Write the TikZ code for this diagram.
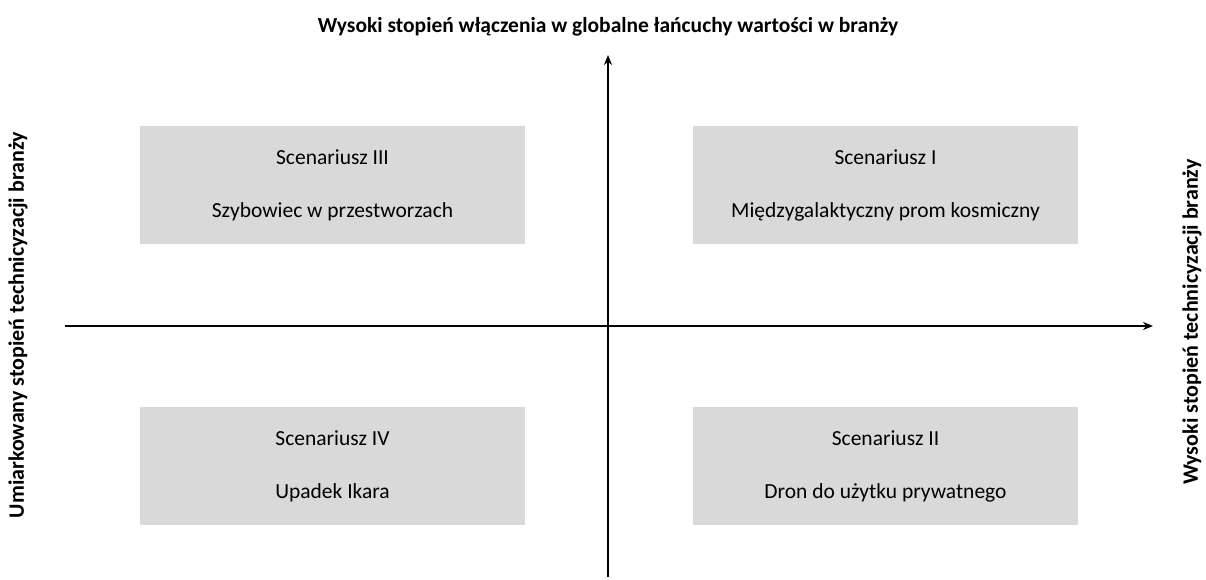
\documentclass[tikz,border=0pt]{standalone}
\usepackage{fontspec}
\setmainfont{Carlito}
\usetikzlibrary{positioning,arrows.meta}
\definecolor{scenariogray}{HTML}{D9D9D9}

\begin{document}
\begin{tikzpicture}[
    x=1pt, y=-1pt,
    % Estilos
    box/.style={fill=scenariogray, minimum width=385pt, minimum height=118pt, inner sep=0pt},
    txt/.style={font=\fontsize{21.5}{25}\selectfont},
    arr/.style={-{Stealth[length=10pt,width=8pt]}, line width=1.2pt},
    axislbl/.style={font=\fontsize{22}{26}\selectfont\bfseries}
]
\useasboundingbox (0,0) rectangle (1206,579);

% --- ESCENARIOS (cajas) ---
\node[box] (s3) at (332.5,185) {};
\node[box] (s1) at (885.5,185) {};
\node[box] (s4) at (332.5,466) {};
\node[box] (s2) at (885.5,466) {};

\node[txt] at ([yshift=28pt]s3.center) {Scenariusz III};
\node[txt] at ([yshift=-27pt]s3.center) {Szybowiec w przestworzach};
\node[txt] at ([yshift=28pt]s1.center) {Scenariusz I};
\node[txt] at ([yshift=-27pt]s1.center) {Międzygalaktyczny prom kosmiczny};
\node[txt] at ([yshift=28pt]s4.center) {Scenariusz IV};
\node[txt] at ([yshift=-27pt]s4.center) {Upadek Ikara};
\node[txt] at ([yshift=28pt]s2.center) {Scenariusz II};
\node[txt] at ([yshift=-27pt]s2.center) {Dron do użytku prywatnego};

% --- EJES ---
\coordinate (xl) at (65,326);
\coordinate (xr) at (1153,326);
\coordinate (yb) at (608,577);
\coordinate (yt) at (608,55);
\draw[arr] (xl) -- (xr);
\draw[arr] (yb) -- (yt);

% --- ETIQUETAS ---
\node[axislbl, font=\fontsize{21.5}{25}\selectfont\bfseries] (top) at (608,27) {Wysoki stopień włączenia w globalne łańcuchy wartości w branży};
\node[axislbl, rotate=90] (left) at (18,325) {Umiarkowany stopień technicyzacji branży};
\node[axislbl, rotate=90] (right) at (1192,322) {Wysoki stopień technicyzacji branży};

\end{tikzpicture}
\end{document}
